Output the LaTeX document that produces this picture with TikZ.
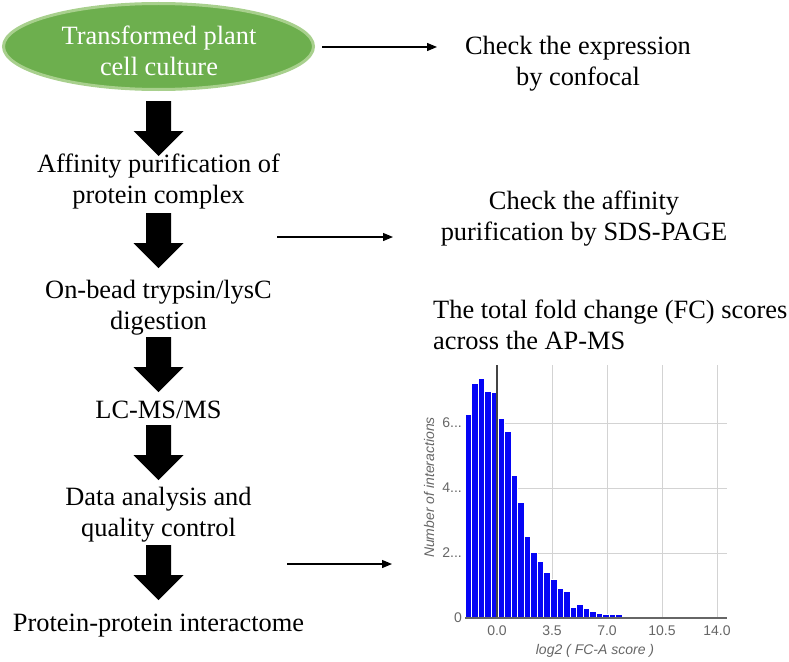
\documentclass[tikz,border=0pt]{standalone}
\usepackage{fontspec}
\setmainfont{Liberation Serif}
\newfontfamily\chartfont{Liberation Sans}
\usetikzlibrary{arrows.meta,shapes.geometric}
\definecolor{cultfill}{HTML}{6DAF4E}
\definecolor{cultedge}{HTML}{A8D08D}
\definecolor{gridgray}{HTML}{D3D3D3}
\definecolor{labgray}{HTML}{666666}
\definecolor{axisgray}{HTML}{444444}
\definecolor{barblue}{HTML}{0505F5}
\newcommand\blockarrow[2]{%
  \fill[black] (146,#1) -- (171,#1) -- (171,#2-25) -- (183.5,#2-25) -- (158.5,#2)
    -- (133.5,#2-25) -- (146,#2-25) -- cycle;}
\begin{document}
\begin{tikzpicture}[x=1pt,y=-1pt,
  txt/.style={font=\fontsize{26.4}{31}\selectfont, align=center, inner sep=0pt, anchor=north},
  thinarrow/.style={line width=1.2pt, -{Triangle[length=10pt,width=8pt]}},
  chartlab/.style={font=\chartfont\fontsize{14}{16}\selectfont, text=labgray, inner sep=0pt},
  charttitle/.style={font=\chartfont\itshape\fontsize{14}{16}\selectfont, text=labgray, inner sep=0pt},
  gridline/.style={draw=gridgray, line width=1pt},
  bar/.style={fill=barblue, draw=white, line width=0.4pt}]
\useasboundingbox (0,0) rectangle (789,661);

% ellipse
\node[ellipse, fill=cultfill, draw=cultedge, line width=3pt,
      minimum width=310pt, minimum height=86pt, inner sep=0pt] (cult) at (158.5,46.5) {};
\node[txt, text=white] (cultT) at (159,22.3) {\strut Transformed plant\\\strut cell culture};

% left column texts
\node[txt] (aff)  at (158.5,150.3) {\strut Affinity purification of\\\strut protein complex};
\node[txt] (onb)  at (158.5,276.3) {\strut On-bead trypsin/lysC\\\strut digestion};
\node[txt] (lcms) at (158.5,396.3) {\strut LC-MS/MS};
\node[txt] (data) at (158.5,483.3) {\strut Data analysis and\\\strut quality control};
\node[txt] (ppi)  at (158.5,609.3) {\strut Protein-protein interactome};

% block arrows
\blockarrow{101}{156}
\blockarrow{213}{268}
\blockarrow{337}{392}
\blockarrow{425}{480}
\blockarrow{545}{600}

% right texts
\node[txt] (chk1) at (578,32.3) {\strut Check the expression\\\strut by confocal};
\node[txt] (chk2) at (584,187.8) {\strut Check the affinity\\\strut purification by SDS-PAGE};
\node[txt, anchor=north west, align=left] (fold) at (433,296.3)
  {\strut The total fold change (FC) scores\\\strut across the AP-MS};

% thin arrows
\coordinate (a1s) at (322,47);  \coordinate (a1e) at (437,47);
\coordinate (a2s) at (277,237); \coordinate (a2e) at (393,237);
\coordinate (a3s) at (287,564); \coordinate (a3e) at (392,564);
\draw[thinarrow] (a1s) -- (a1e);
\draw[thinarrow] (a2s) -- (a2e);
\draw[thinarrow] (a3s) -- (a3e);

% histogram grid
\foreach \gy in {553,488,423} \draw[gridline] (465,\gy) -- (727,\gy);
\foreach \gx in {552,607,662,717} \draw[gridline] (\gx,365) -- (\gx,618);

% bars
\foreach \h [count=\i from 0] in {203.7,234.7,239.7,227.3,226.3,199.7,187.3,143,116.3,82.3,
  65.7,57,45.7,39,29.7,27.3,11.3,14,10.3,7.3,5.3,4.3,3.7,4.3,2,1.3,2.3,1,0.7,0.7,
  0.7,0.5,1.3,0.5,0.5,0.5,0.5,0.5,0.5,0.5}
  \filldraw[bar] (465+\i*6.55,618) rectangle ++(6.55,-\h);

% axes
\draw[draw=axisgray, line width=1.2pt] (497,365) -- (497,618);
\draw[draw=labgray, line width=1.2pt] (465,618) -- (727,618);

% tick labels
\node[chartlab, anchor=east] (y6) at (462,423) {6...};
\node[chartlab, anchor=east] (y4) at (462,488) {4...};
\node[chartlab, anchor=east] (y2) at (462,553) {2...};
\node[chartlab, anchor=east] (y0) at (462,618) {0};
\node[chartlab] (x0)  at (497,631) {0.0};
\node[chartlab] (x35) at (552,631) {3.5};
\node[chartlab] (x7)  at (607,631) {7.0};
\node[chartlab] (x105) at (662,631) {10.5};
\node[chartlab] (x14) at (717,631) {14.0};
\node[charttitle] (xt) at (595,651) {log2 ( FC-A score )};
\node[charttitle, rotate=90] (yt) at (429,487.5) {Number of interactions};
\end{tikzpicture}
\end{document}
